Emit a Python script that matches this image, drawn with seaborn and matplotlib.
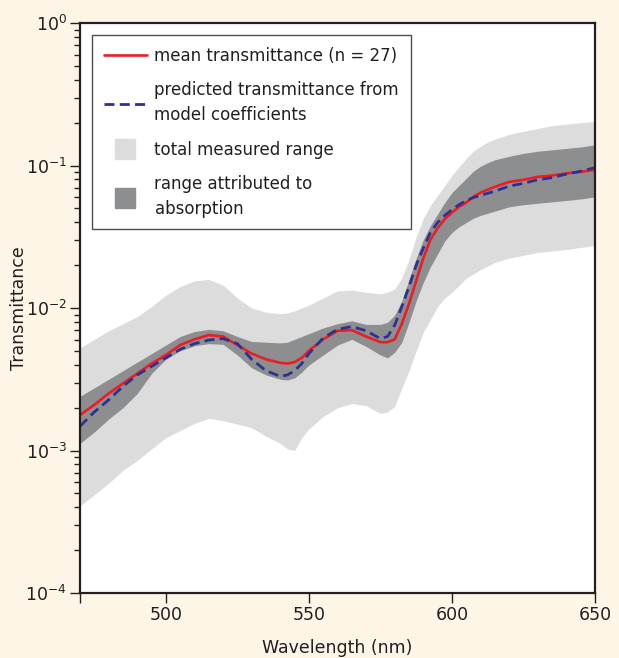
import matplotlib
matplotlib.use("Agg")
import matplotlib.pyplot as plt
import matplotlib.ticker as mticker
from matplotlib.lines import Line2D
import numpy as np
import pandas as pd
import seaborn as sns

# wavelength grid (nm) and curves, as log10(transmittance)
wavelength = [470, 475, 480, 485, 490, 495, 500, 505, 510, 515, 520, 525, 530,
              535, 540, 542.5, 545, 547.5, 550, 555, 560, 565, 570, 575, 577.5,
              580, 582.5, 585, 587.5, 590, 592.5, 595, 597.5, 600, 602.5, 605,
              607.5, 610, 612.5, 615, 620, 625, 630, 635, 640, 645, 650]

mean_log = [-2.75, -2.68, -2.60, -2.53, -2.46, -2.39, -2.33, -2.26, -2.22, -2.19,
            -2.20, -2.26, -2.32, -2.36, -2.385, -2.39, -2.38, -2.35, -2.30, -2.22,
            -2.16, -2.155, -2.20, -2.24, -2.24, -2.22, -2.11, -1.97, -1.81, -1.65,
            -1.52, -1.44, -1.375, -1.33, -1.29, -1.26, -1.22, -1.19, -1.17, -1.15,
            -1.115, -1.10, -1.08, -1.07, -1.055, -1.045, -1.03]

pred_log = [-2.83, -2.73, -2.645, -2.55, -2.47, -2.41, -2.35, -2.29, -2.25, -2.225,
            -2.215, -2.25, -2.36, -2.44, -2.48, -2.47, -2.44, -2.39, -2.32, -2.21,
            -2.15, -2.13, -2.16, -2.215, -2.20, -2.12, -1.99, -1.85, -1.70, -1.58,
            -1.47, -1.40, -1.35, -1.31, -1.275, -1.245, -1.225, -1.21, -1.195, -1.18,
            -1.145, -1.125, -1.10, -1.085, -1.06, -1.04, -1.015]

absorb_hi = [-2.62, -2.56, -2.50, -2.44, -2.38, -2.32, -2.26, -2.20, -2.165, -2.15,
             -2.16, -2.20, -2.235, -2.24, -2.245, -2.24, -2.22, -2.20, -2.18, -2.14,
             -2.11, -2.09, -2.115, -2.115, -2.10, -2.05, -1.95, -1.80, -1.65, -1.52,
             -1.42, -1.34, -1.26, -1.19, -1.14, -1.09, -1.04, -1.005, -0.98, -0.96,
             -0.935, -0.915, -0.90, -0.89, -0.88, -0.87, -0.855]

absorb_lo = [-2.95, -2.87, -2.78, -2.70, -2.60, -2.46, -2.36, -2.30, -2.265, -2.25,
             -2.255, -2.33, -2.42, -2.47, -2.50, -2.505, -2.49, -2.45, -2.40, -2.33,
             -2.26, -2.22, -2.27, -2.33, -2.35, -2.31, -2.24, -2.10, -1.95, -1.82,
             -1.71, -1.62, -1.53, -1.47, -1.43, -1.40, -1.37, -1.35, -1.335, -1.32,
             -1.29, -1.275, -1.265, -1.255, -1.245, -1.235, -1.22]

total_hi = [-2.28, -2.22, -2.16, -2.11, -2.06, -1.99, -1.91, -1.85, -1.81, -1.80,
            -1.84, -1.93, -2.00, -2.03, -2.04, -2.035, -2.02, -2.00, -1.98, -1.93,
            -1.88, -1.875, -1.89, -1.90, -1.89, -1.865, -1.79, -1.66, -1.50, -1.37,
            -1.28, -1.21, -1.14, -1.07, -1.01, -0.95, -0.90, -0.865, -0.835, -0.815,
            -0.782, -0.76, -0.74, -0.72, -0.71, -0.70, -0.69]

total_lo = [-3.39, -3.31, -3.23, -3.14, -3.07, -2.99, -2.91, -2.86, -2.81, -2.775,
            -2.79, -2.815, -2.84, -2.90, -2.95, -2.99, -3.00, -2.91, -2.85, -2.76,
            -2.70, -2.67, -2.685, -2.74, -2.73, -2.69, -2.56, -2.44, -2.30, -2.17,
            -2.08, -1.99, -1.93, -1.89, -1.84, -1.79, -1.76, -1.73, -1.705, -1.68,
            -1.65, -1.63, -1.61, -1.60, -1.59, -1.575, -1.56]

x_ticks = [470, 500, 550, 600, 650]
x_tick_labels = ["", "500", "550", "600", "650"]

df = pd.DataFrame({
    "wavelength": wavelength,
    "mean": np.power(10.0, mean_log),
    "pred": np.power(10.0, pred_log),
    "abs_hi": np.power(10.0, absorb_hi),
    "abs_lo": np.power(10.0, absorb_lo),
    "tot_hi": np.power(10.0, total_hi),
    "tot_lo": np.power(10.0, total_lo),
})

BG = "#fdf5e6"
LIGHT = "#dcdcdd"
DARK = "#8d8e90"
RED = "#ed1c24"
BLUE = "#2e3192"
INK = "#231f20"
DASH = (0, (3.6, 1.9))

sns.set_style("ticks")
plt.rcParams["font.family"] = ["DejaVu Sans"]

fig = plt.figure(figsize=(6.19, 6.58), dpi=100, facecolor=BG)
ax = fig.add_axes([80 / 619, 1 - 593 / 658, 515 / 619, 570 / 658])
ax.set_facecolor("white")

ax.fill_between(df["wavelength"], df["tot_lo"], df["tot_hi"],
                color=LIGHT, linewidth=0)
ax.fill_between(df["wavelength"], df["abs_lo"], df["abs_hi"],
                color=DARK, linewidth=0)

sns.lineplot(data=df, x="wavelength", y="mean", color=RED, linewidth=1.9,
             ax=ax)
sns.lineplot(data=df, x="wavelength", y="pred", color=BLUE, linewidth=2.0,
             ax=ax)
ax.lines[-1].set_linestyle(DASH)

ax.set_yscale("log")
ax.set_ylim(1e-4, 1)
ax.set_xlim(470, 650)
ax.set_xticks(x_ticks)
ax.set_xticklabels(x_tick_labels)
ax.yaxis.set_major_locator(mticker.LogLocator(base=10, numticks=10))
ax.yaxis.set_minor_locator(mticker.LogLocator(base=10, subs=np.arange(2, 10),
                                              numticks=20))
ax.yaxis.set_minor_formatter(mticker.NullFormatter())

for side in ["left", "right", "top", "bottom"]:
    ax.spines[side].set_visible(True)
    ax.spines[side].set_color(INK)
    ax.spines[side].set_linewidth(1.6)

ax.tick_params(axis="both", which="major", direction="out", length=7.5,
               width=1.0, color=INK, labelsize=12.5, labelcolor=INK, pad=2)
ax.tick_params(axis="y", which="minor", direction="out", length=4,
               width=1.0, color=INK)

ax.set_xlabel("Wavelength (nm)", fontsize=12.5, color=INK, labelpad=11)
ax.set_ylabel("Transmittance", fontsize=12.5, color=INK)
ax.yaxis.set_label_coords(-0.101, 0.5)

handles = [
    Line2D([], [], color=RED, linewidth=1.9),
    Line2D([], [], color=BLUE, linewidth=2.0, linestyle=DASH),
    Line2D([], [], color=LIGHT, marker="s", markersize=14.5, linestyle="none"),
    Line2D([], [], color=DARK, marker="s", markersize=14.5, linestyle="none"),
]
labels = [
    "mean transmittance (n = 27)",
    "predicted transmittance from\nmodel coefficients",
    "total measured range",
    "range attributed to\nabsorption",
]
leg = ax.legend(handles, labels, loc="upper left",
                bbox_to_anchor=(12 / 515, 1 - 12 / 570), fontsize=12,
                frameon=True, fancybox=False, framealpha=1,
                edgecolor="#4d4d4d", handlelength=2.6, handletextpad=0.45,
                labelspacing=1.0, borderpad=0.7, borderaxespad=0)
leg.get_frame().set_linewidth(1.0)
for t in leg.get_texts():
    t.set_color(INK)
    t.set_linespacing(1.47)

fig.savefig("out.png", dpi=100, facecolor=BG)
